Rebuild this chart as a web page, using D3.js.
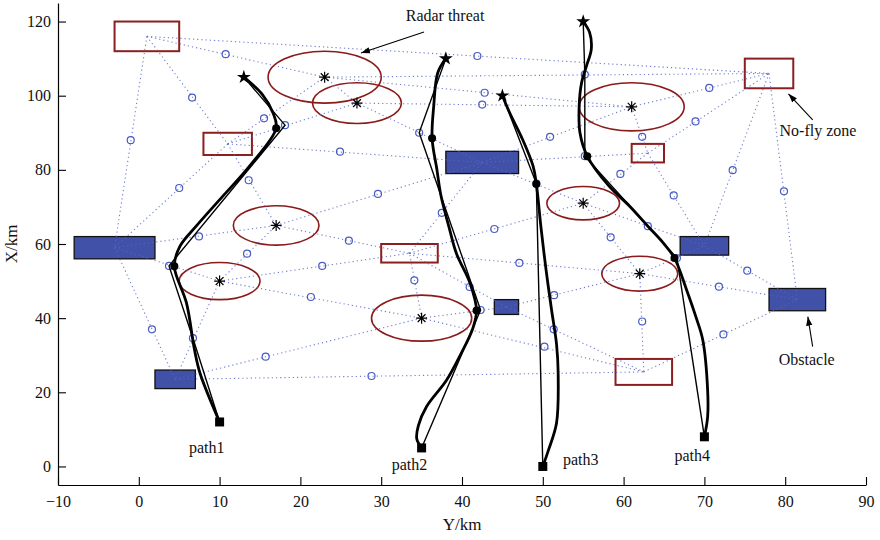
<!DOCTYPE html>
<html>
<head>
<meta charset="utf-8">
<script src="https://cdn.jsdelivr.net/npm/d3@7.9.0/dist/d3.min.js"></script>
<style>
  body { margin: 0; background: #fff; }
  svg text { font-family: "Liberation Serif", "Times New Roman", serif; fill: #111; }
</style>
</head>
<body>
<svg id="chart"></svg>
<script>
// axis ticks
const xTicks = [-10, 0, 10, 20, 30, 40, 50, 60, 70, 80, 90];
const yTicks = [0, 20, 40, 60, 80, 100, 120];

// radar threats: centre and radius (km)
const threats = [
  { id: 'T1', x: 23, y: 105, r: 7 },
  { id: 'T2', x: 27, y: 98, r: 5.5 },
  { id: 'T3', x: 17, y: 65, r: 5.3 },
  { id: 'T4', x: 10, y: 50, r: 5 },
  { id: 'T5', x: 35, y: 40, r: 6.2 },
  { id: 'T6', x: 61, y: 97, r: 6.5 },
  { id: 'T7', x: 55, y: 71, r: 4.5 },
  { id: 'T8', x: 62, y: 52, r: 4.7 }
];

// no-fly zones [x0, x1, y0, y1]
const noFly = [
  { id: 'A', b: [-3, 5, 112, 120] },
  { id: 'B', b: [8, 14, 84, 90] },
  { id: 'C', b: [75, 81, 102, 110] },
  { id: 'D', b: [61, 65, 82, 87] },
  { id: 'E', b: [30, 37, 55, 60] },
  { id: 'F', b: [59, 66, 22, 29] }
];

// obstacles [x0, x1, y0, y1]
const obstacles = [
  { id: 'O1', b: [-8, 2, 56, 62] },
  { id: 'O2', b: [38, 47, 79, 85] },
  { id: 'O3', b: [44, 47, 41, 45] },
  { id: 'O4', b: [67, 73, 57, 62] },
  { id: 'O5', b: [78, 85, 42, 48] },
  { id: 'O6', b: [2, 7, 21, 26] }
];

// dotted network links between region centres
const links = [
  ['A', 'C'], ['A', 'T1'], ['A', 'B'], ['A', 'O1'], ['B', 'T1'], ['B', 'T2'], ['B', 'O2'],
  ['B', 'T3'], ['B', 'O1'], ['O1', 'T3'], ['O1', 'T4'], ['O1', 'O6'], ['T4', 'T3'], ['T3', 'O2'],
  ['T3', 'E'], ['T4', 'E'], ['T4', 'T5'], ['T4', 'O6'], ['O6', 'T5'], ['O6', 'F'], ['T5', 'E'],
  ['E', 'O3'], ['T5', 'O3'], ['T5', 'F'], ['O3', 'T8'], ['O3', 'F'], ['E', 'O2'], ['E', 'T7'],
  ['E', 'T8'], ['O2', 'T2'], ['O2', 'T6'], ['O2', 'D'], ['O2', 'T7'], ['T1', 'C'], ['T1', 'T6'],
  ['T2', 'T6'], ['T6', 'C'], ['D', 'C'], ['T6', 'D'], ['D', 'T7'], ['D', 'O4'], ['C', 'O4'],
  ['C', 'O5'], ['T7', 'O4'], ['T7', 'T8'], ['O4', 'O5'], ['T8', 'O5'], ['T8', 'F'], ['F', 'O5'],
  ['T8', 'O4'], ['T1', 'T2']
];

// network nodes (open circles)
const netNodes = [
  [10.75, 111.2], [6.6, 99.5], [-1, 88], [15.5, 93.9], [18.1, 92.05], [24.9, 84.9], [13.6, 77.2],
  [5, 75.1], [7.45, 62.05], [3.74, 54.1], [1.63, 37], [13.4, 57.4], [29.6, 73.5], [26, 60.9],
  [22.7, 54.1], [21.3, 45.7], [6.7, 34.6], [15.7, 29.6], [28.8, 24.4], [34.1, 50.2], [40.95, 48.4],
  [42.3, 42.2], [50.2, 32.3], [51.4, 46.2], [51.35, 37], [37.5, 68.4], [44, 64.05], [47.1, 54.9],
  [34.7, 90], [50.9, 88.9], [55.2, 83.7], [49.2, 76.3], [55.2, 105.7], [41.9, 110.7], [42.8, 100.8],
  [42.5, 97.6], [70.6, 102.1], [68.9, 93.05], [62.3, 88.9], [59.6, 78.9], [66.2, 73.1], [73.5, 79.9],
  [79.85, 74.2], [63, 64.8], [58.4, 61.8], [75.3, 52.8], [71.8, 48.5], [62.3, 39.1], [72.35, 35.6],
  [66.6, 56.2]
];

// UAV paths: smooth planned path, thin network path, waypoints
const paths = [
  {
    name: 'path1', start: [10, 12], end: [13, 105], label: [8.4, 3.6],
    waypoints: [[4.4, 54], [17, 91.2]],
    thin: [[10, 12], [6.7, 34.6], [3.74, 54.1], [18.1, 92.05], [13, 105]],
    smooth: [[10, 12], [7.6, 25], [6.9, 31.4], [5.9, 44.1], [4.4, 54], [5.1, 59.4], [7.1, 64.8],
      [10.4, 72.9], [13.7, 81], [17, 91.2], [16.6, 95.4], [15.3, 100.3], [13, 105]]
  },
  {
    name: 'path2', start: [35, 5], end: [38, 110], label: [33.5, -0.9],
    waypoints: [[36.3, 88.5], [41.8, 42.05]],
    thin: [[35, 5], [42.3, 42.2], [34.7, 90], [38, 110]],
    smooth: [[35, 5], [34.4, 7.5], [34.6, 11], [35.6, 16.1], [38.1, 23.3], [39.9, 30.5], [41.3, 37],
      [41.8, 42.05], [41, 49.4], [39.3, 57.5], [38.4, 64.5], [37.4, 73], [36.9, 80], [36.3, 88.5],
      [36.5, 97.2], [37, 106.2], [38, 110]]
  },
  {
    name: 'path3', start: [50, 0], end: [45, 100], label: [54.7, 0.4],
    waypoints: [[49.2, 76.2]],
    thin: [[50, 0], [49.2, 76.3], [45, 100]],
    smooth: [[50, 0], [50.7, 4.4], [51.7, 11.7], [51.9, 25.2], [51.7, 33], [51.1, 42], [50.4, 53.1],
      [49.8, 64], [49.2, 76.2], [48.8, 81], [47.5, 88.2], [45.9, 95.4], [45, 100]]
  },
  {
    name: 'path4', start: [70, 8], end: [55, 120], label: [68.5, 1.5],
    waypoints: [[55.5, 83.7], [66.3, 56.2]],
    thin: [[70, 8], [66.6, 56.2], [55.2, 83.7], [55.2, 105.7], [55, 120]],
    smooth: [[70, 8], [70.4, 13.4], [70.4, 20.6], [69.8, 34.1], [69, 40], [67.8, 47.6], [66.3, 56.2],
      [64.9, 60.3], [63, 64.8], [60.75, 70.2], [58.2, 75.6], [55.5, 83.7], [54.6, 90], [54.5, 97.2],
      [54.8, 103.5], [55.4, 108], [56, 112.5], [55.8, 117], [55, 120]]
  }
];

// callouts: text, text anchor point, arrow tail, arrow head
const callouts = [
  { text: 'Radar threat', at: [37.9, 120.2], anchor: 'middle', from: [35.3, 117.2], to: [27.5, 111.5] },
  { text: 'No-fly zone', at: [79.3, 89.2], anchor: 'start', from: [83.4, 93.5], to: [80.4, 100.5] },
  { text: 'Obstacle', at: [79.2, 27.4], anchor: 'start', from: [83.4, 32.3], to: [82.8, 40.4] }
];

const width = 880, height = 540;
const margin = { top: 3, right: 14, bottom: 55, left: 58 };

const svg = d3.select('#chart').attr('width', width).attr('height', height);

const x = d3.scaleLinear().domain([-10, 90]).range([margin.left, width - margin.right]);
const y = d3.scaleLinear().domain([-5, 125]).range([height - margin.bottom, margin.top]);

const defs = svg.append('defs');
defs.append('marker')
  .attr('id', 'arrow')
  .attr('viewBox', '0 0 10 10')
  .attr('refX', 10).attr('refY', 5)
  .attr('markerWidth', 9).attr('markerHeight', 9)
  .attr('markerUnits', 'userSpaceOnUse')
  .attr('orient', 'auto')
  .append('path').attr('d', 'M0,1.5 L10,5 L0,8.5 Z').attr('fill', '#000');

const centre = {};
threats.forEach(t => { centre[t.id] = [t.x, t.y]; });
noFly.concat(obstacles).forEach(o => { centre[o.id] = [(o.b[0] + o.b[1]) / 2, (o.b[2] + o.b[3]) / 2]; });

// radar threat circles
svg.append('g').selectAll('ellipse')
  .data(threats)
  .join('ellipse')
  .attr('cx', d => x(d.x))
  .attr('cy', d => y(d.y))
  .attr('rx', d => x(d.x + d.r) - x(d.x))
  .attr('ry', d => y(d.y) - y(d.y + d.r))
  .attr('fill', 'none')
  .attr('stroke', '#8b1a1a')
  .attr('stroke-width', 1.6);

// no-fly zones
svg.append('g').selectAll('rect')
  .data(noFly)
  .join('rect')
  .attr('x', d => x(d.b[0]))
  .attr('y', d => y(d.b[3]))
  .attr('width', d => x(d.b[1]) - x(d.b[0]))
  .attr('height', d => y(d.b[2]) - y(d.b[3]))
  .attr('fill', 'none')
  .attr('stroke', '#8b1e1e')
  .attr('stroke-width', 2);

// obstacles
svg.append('g').selectAll('rect')
  .data(obstacles)
  .join('rect')
  .attr('x', d => x(d.b[0]))
  .attr('y', d => y(d.b[3]))
  .attr('width', d => x(d.b[1]) - x(d.b[0]))
  .attr('height', d => y(d.b[2]) - y(d.b[3]))
  .attr('fill', '#4151a8')
  .attr('stroke', '#111')
  .attr('stroke-width', 1.3);

// dotted network
svg.append('g').selectAll('line')
  .data(links)
  .join('line')
  .attr('x1', d => x(centre[d[0]][0]))
  .attr('y1', d => y(centre[d[0]][1]))
  .attr('x2', d => x(centre[d[1]][0]))
  .attr('y2', d => y(centre[d[1]][1]))
  .attr('stroke', '#5868c8')
  .attr('stroke-width', 1.1)
  .attr('stroke-dasharray', '1.2 3')
  .attr('opacity', 0.85);

svg.append('g').selectAll('circle')
  .data(netNodes)
  .join('circle')
  .attr('cx', d => x(d[0]))
  .attr('cy', d => y(d[1]))
  .attr('r', 3.5)
  .attr('fill', 'none')
  .attr('stroke', '#4a5cc4')
  .attr('stroke-width', 1.2);

// threat centres (asterisk)
const ast = 5.5;
const astPath = d => {
  const cx = x(d.x), cy = y(d.y), k = ast * 0.7071;
  return `M${cx - ast},${cy}H${cx + ast}M${cx},${cy - ast}V${cy + ast}` +
    `M${cx - k},${cy - k}L${cx + k},${cy + k}M${cx - k},${cy + k}L${cx + k},${cy - k}`;
};
svg.append('g').selectAll('path')
  .data(threats)
  .join('path')
  .attr('d', astPath)
  .attr('stroke', '#000')
  .attr('stroke-width', 1.2);

// paths
const line = d3.line().x(d => x(d[0])).y(d => y(d[1]));
const smoothLine = d3.line().x(d => x(d[0])).y(d => y(d[1])).curve(d3.curveCatmullRom.alpha(0.5));

const pg = svg.append('g');
pg.selectAll('path.thin')
  .data(paths)
  .join('path')
  .attr('class', 'thin')
  .attr('d', d => line(d.thin))
  .attr('fill', 'none')
  .attr('stroke', '#000')
  .attr('stroke-width', 1.4)
  .attr('stroke-linejoin', 'miter');

pg.selectAll('path.smooth')
  .data(paths)
  .join('path')
  .attr('class', 'smooth')
  .attr('d', d => smoothLine(d.smooth))
  .attr('fill', 'none')
  .attr('stroke', '#000')
  .attr('stroke-width', 2.8);

pg.selectAll('circle.wp')
  .data(paths.flatMap(p => p.waypoints))
  .join('circle')
  .attr('class', 'wp')
  .attr('cx', d => x(d[0]))
  .attr('cy', d => y(d[1]))
  .attr('r', 4)
  .attr('fill', '#000');

pg.selectAll('path.start')
  .data(paths)
  .join('path')
  .attr('class', 'start')
  .attr('transform', d => `translate(${x(d.start[0])},${y(d.start[1])})`)
  .attr('d', d3.symbol(d3.symbolSquare, 81))
  .attr('fill', '#000');

pg.selectAll('path.end')
  .data(paths)
  .join('path')
  .attr('class', 'end')
  .attr('transform', d => `translate(${x(d.end[0])},${y(d.end[1])})`)
  .attr('d', d3.symbol(d3.symbolStar, 60))
  .attr('fill', '#000');

pg.selectAll('text.plabel')
  .data(paths)
  .join('text')
  .attr('class', 'plabel')
  .attr('x', d => x(d.label[0]))
  .attr('y', d => y(d.label[1]))
  .attr('text-anchor', 'middle')
  .attr('font-size', 16)
  .text(d => d.name);

// callouts
const cg = svg.append('g');
cg.selectAll('line')
  .data(callouts)
  .join('line')
  .attr('x1', d => x(d.from[0]))
  .attr('y1', d => y(d.from[1]))
  .attr('x2', d => x(d.to[0]))
  .attr('y2', d => y(d.to[1]))
  .attr('stroke', '#000')
  .attr('stroke-width', 1.1)
  .attr('marker-end', 'url(#arrow)');
cg.selectAll('text')
  .data(callouts)
  .join('text')
  .attr('x', d => x(d.at[0]))
  .attr('y', d => y(d.at[1]))
  .attr('text-anchor', d => d.anchor)
  .attr('font-size', 16)
  .text(d => d.text);

// axes
const xAxis = d3.axisBottom(x).tickValues(xTicks).tickSizeInner(-8).tickSizeOuter(0).tickPadding(10.5);
const yAxis = d3.axisLeft(y).tickValues(yTicks).tickSizeInner(-8).tickSizeOuter(0).tickPadding(7);

const gx = svg.append('g')
  .attr('transform', `translate(0,${height - margin.bottom})`)
  .call(xAxis);
const gy = svg.append('g')
  .attr('transform', `translate(${margin.left},0)`)
  .call(yAxis);

[gx, gy].forEach(g => {
  g.select('.domain').attr('stroke', '#000').attr('stroke-width', 1.2);
  g.selectAll('.tick line').attr('stroke', '#000').attr('stroke-width', 1.1);
  g.selectAll('.tick text')
    .attr('font-family', '"Liberation Serif", "Times New Roman", serif')
    .attr('font-size', 16)
    .attr('fill', '#111');
});

svg.append('text')
  .attr('x', (x(-10) + x(90)) / 2)
  .attr('y', 530)
  .attr('text-anchor', 'middle')
  .attr('font-size', 17)
  .text('Y/km');

svg.append('text')
  .attr('transform', `translate(17,${y(60)}) rotate(-90)`)
  .attr('text-anchor', 'middle')
  .attr('font-size', 17)
  .text('X/km');
</script>
</body>
</html>
